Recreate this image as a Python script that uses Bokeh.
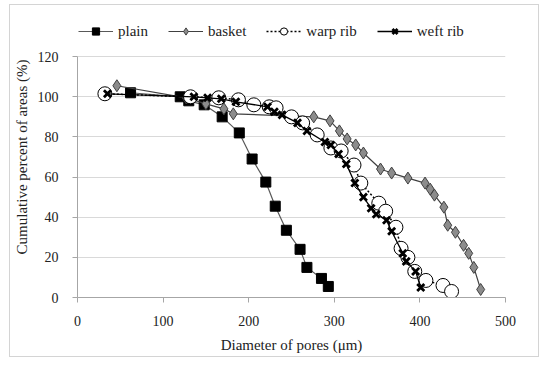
from bokeh.plotting import figure
from bokeh.models import Legend, LegendItem, Range1d, FixedTicker
from bokeh.embed import file_html
from bokeh.resources import INLINE

# data
plain_x = [62, 120, 130, 148, 169, 189, 204, 220, 231, 244, 260, 268, 285, 293]
plain_y = [102, 100, 98, 96, 90, 82, 69, 57.5, 45.5, 33.5, 24, 15, 9.5, 5.5]

basket_x = [46, 127, 150, 171, 182, 276, 295, 306, 315, 325, 334, 354, 367, 386, 406, 412, 417, 428, 432.5, 441.5, 451, 457, 463, 471]
basket_y = [105.5, 99.5, 96.5, 94, 91.5, 90, 88, 83, 79, 76, 72, 64, 62, 59.5, 57, 54, 51, 45, 36, 32.5, 26, 22, 15, 4]

warp_x = [32, 132, 165, 188, 206, 224, 232, 250, 263, 280, 296, 308, 323, 331, 352, 360, 372, 378, 386, 394, 407, 427, 437]
warp_y = [101.5, 100, 99.5, 98.5, 96, 95, 94.5, 90, 87, 81, 74.5, 73, 66, 57, 47, 43, 35, 24.5, 20, 13, 8.5, 6, 3]

weft_x = [35, 136, 152, 168, 185, 222, 230, 239, 257, 268, 289, 296, 305, 314, 324, 334, 343, 349, 361, 367, 380, 384, 395, 401]
weft_y = [101.5, 100, 99.5, 99, 97.5, 95, 92.5, 91, 87, 83, 77.5, 76, 71.5, 66.5, 57, 50, 44.5, 41.5, 38.5, 33, 22, 18, 13, 5]

series_names = ["plain", "basket", "warp rib", "weft rib"]
x_ticks = [0, 100, 200, 300, 400, 500]
y_ticks = [0, 20, 40, 60, 80, 100, 120]

FONT = "Liberation Serif"

p = figure(width=530, height=353, output_backend="svg", toolbar_location=None,
           x_range=Range1d(0, 500), y_range=Range1d(0, 140),
           min_border_left=67, min_border_right=35, min_border_top=11, min_border_bottom=61)
p.styles = {"border": "1px solid #d4d4d4", "margin-left": "9px", "margin-top": "4px"}
p.outline_line_color = None
p.background_fill_color = "white"
p.border_fill_color = "white"

p.xgrid.grid_line_color = None
p.ygrid.grid_line_color = "#d9d9d9"
p.ygrid.grid_line_width = 1
p.ygrid.bounds = (0, 120)

p.xaxis.ticker = FixedTicker(ticks=x_ticks)
p.yaxis.ticker = FixedTicker(ticks=y_ticks)
p.yaxis.bounds = (0, 120)
for ax in (p.xaxis[0], p.yaxis[0]):
    ax.axis_line_color = "#a6a6a6"
    ax.major_tick_line_color = "#a6a6a6"
    ax.major_tick_out = 5
    ax.major_tick_in = 0
    ax.minor_tick_line_color = None
    ax.major_label_text_font = FONT
    ax.major_label_text_font_size = "14px"
    ax.major_label_text_color = "#222222"
    ax.axis_label_text_font = FONT
    ax.axis_label_text_font_size = "15px"
    ax.axis_label_text_font_style = "normal"
    ax.axis_label_text_color = "#222222"
p.xaxis.axis_label = "Diameter of pores (μm)"
p.yaxis.axis_label = "Cumulative percent of areas (%)"
p.xaxis.major_label_standoff = 13
p.yaxis.major_label_standoff = 14
p.xaxis.axis_label_standoff = 8
p.yaxis.axis_label_standoff = 5

# plain
l1 = p.line(plain_x, plain_y, line_color="#595959", line_width=1.2)
m1 = p.scatter(plain_x, plain_y, marker="square", size=10, fill_color="black", line_color="black")
# basket
l2 = p.line(basket_x, basket_y, line_color="#404040", line_width=1.2)
m2 = p.scatter(basket_x, basket_y, marker="diamond", size=12, fill_color="#8c8c8c", line_color="#404040", line_width=1)
# warp rib
l3 = p.line(warp_x, warp_y, line_color="black", line_width=1.5, line_dash="2 2")
m3 = p.scatter(warp_x, warp_y, marker="circle", size=14, fill_color="white", line_color="black", line_width=1)
# weft rib
l4 = p.line(weft_x, weft_y, line_color="black", line_width=1.3)
m4 = p.scatter(weft_x, weft_y, marker="x", size=10, line_color="black", line_width=2.8)

legend = Legend(items=[
    LegendItem(label=series_names[0], renderers=[l1, m1]),
    LegendItem(label=series_names[1], renderers=[l2, m2]),
    LegendItem(label=series_names[2], renderers=[l3, m3]),
    LegendItem(label=series_names[3], renderers=[l4, m4]),
], orientation="horizontal", location=(1, 257))
legend.label_text_font = FONT
legend.label_text_font_size = "15px"
legend.label_text_color = "#222222"
legend.glyph_width = 35
legend.glyph_height = 18
legend.label_standoff = 5
legend.spacing = 20
legend.padding = 2
legend.margin = 0
legend.border_line_color = None
legend.background_fill_alpha = 0
p.add_layout(legend, "center")

open("out.html", "w").write(file_html(p, INLINE))
